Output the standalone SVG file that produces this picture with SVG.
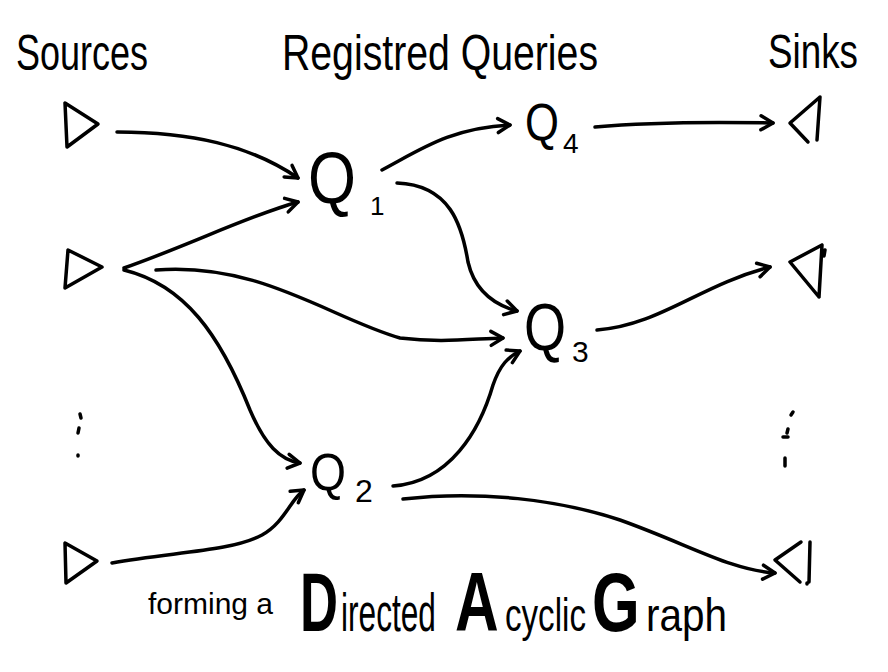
<svg xmlns="http://www.w3.org/2000/svg" width="888" height="672" viewBox="0 0 888 672">
<defs>
<style>
.ln{fill:none;stroke:#000;stroke-width:3.5;stroke-linecap:round;stroke-linejoin:round}
.t{font-family:"Liberation Sans","DejaVu Sans",sans-serif;fill:#000}
.big{font-size:84px;font-weight:bold}
</style>
<marker id="ah" markerUnits="userSpaceOnUse" viewBox="-4 -4 24 24" markerWidth="24" markerHeight="24" refX="13" refY="7" orient="auto">
<path d="M1,0 L13,7 L1,14" fill="none" stroke="#000" stroke-width="3.5" stroke-linecap="round" stroke-linejoin="round"/>
</marker>
</defs>
<rect width="888" height="672" fill="#fff"/>

<g id="titles">
<text class="t" x="16" y="70" font-size="50" textLength="132" lengthAdjust="spacingAndGlyphs">Sources</text>
<text class="t" x="282" y="70" font-size="50" textLength="316" lengthAdjust="spacingAndGlyphs">Registred Queries</text>
<text class="t" x="768" y="68" font-size="48" textLength="90" lengthAdjust="spacingAndGlyphs">Sinks</text>
</g>

<g id="source1"><path class="ln" d="M65,103 L67,147 L98,124 Z"/></g>
<g id="source2"><path class="ln" d="M68,250 L65,288 L102,267 Z"/></g>
<g id="source-dots"><path class="ln" d="M80,414 L81,418 M79,428 L78,433 M78,455 L78,456"/></g>
<g id="source3"><path class="ln" d="M65,543 L66,583 L97,561 Z"/></g>

<g id="sink1"><path class="ln" d="M820,97 L790,123 L808,142 M820,97 L817,140"/></g>
<g id="sink2"><path class="ln" d="M822,245 L790,262 L819,297 M822,245 L819,297 M825,250 L824,256"/></g>
<g id="sink-dots"><path class="ln" d="M793,412 L791,415 M788,429 L787,433 M783,437 L788,437 M785,458 L785,466"/></g>
<g id="sink3"><path class="ln" d="M801,542 L775,560 L800,582 M810,542 L809,582 M807,583 L807,584"/></g>

<g id="q1">
<text class="t" font-size="72" transform="translate(308,203) scale(0.857,1)">Q</text>
<text class="t" x="370" y="215" font-size="26">1</text>
</g>
<g id="q4">
<text class="t" font-size="52" transform="translate(525,140) scale(0.84,1)">Q</text>
<text class="t" x="563" y="153" font-size="28">4</text>
</g>
<g id="q3">
<text class="t" font-size="66" transform="translate(524,350) scale(0.82,1)">Q</text>
<text class="t" x="572" y="362" font-size="30">3</text>
</g>
<g id="q2">
<text class="t" font-size="52" transform="translate(310,490) scale(0.89,1)">Q</text>
<text class="t" x="355" y="502" font-size="32">2</text>
</g>

<g id="connectors">
<path class="ln" marker-end="url(#ah)" d="M117,132 C190,132 250,145 298,178"/>
<path class="ln" marker-end="url(#ah)" d="M124,268 C190,245 250,215 298,202"/>
<path class="ln" marker-end="url(#ah)" d="M156,270 C260,262 330,318 400,338 C440,343 470,339 503,338"/>
<path class="ln" marker-end="url(#ah)" d="M124,270 C185,285 220,335 250,410 C265,445 280,460 300,463"/>
<path class="ln" marker-end="url(#ah)" d="M112,563 C170,552 230,552 262,535 C285,522 290,500 304,490"/>
<path class="ln" marker-end="url(#ah)" d="M382,170 C420,150 450,128 510,125"/>
<path class="ln" marker-end="url(#ah)" d="M397,183 C450,185 462,225 468,262 C475,292 495,305 517,311"/>
<path class="ln" marker-end="url(#ah)" d="M393,486 C450,482 480,430 493,385 C500,365 508,357 520,351"/>
<path class="ln" marker-end="url(#ah)" d="M403,499 C480,490 560,500 620,520 C690,545 730,570 775,573"/>
<path class="ln" marker-end="url(#ah)" d="M595,127 C650,122 720,122 773,123"/>
<path class="ln" marker-end="url(#ah)" d="M597,330 C660,325 700,285 770,267"/>
</g>

<g id="caption">
<text class="t" x="148" y="614" font-size="30">forming a</text>
<text class="t big" transform="translate(300,631) scale(0.627,1)">D</text>
<text class="t" font-size="54" transform="translate(341,631) scale(0.586,1)">irected</text>
<text class="t big" transform="translate(455,631) scale(0.72,1)">A</text>
<text class="t" font-size="46" transform="translate(505,631) scale(0.72,1)">cyclic</text>
<text class="t big" transform="translate(592,631) scale(0.73,1)">G</text>
<text class="t" font-size="46" transform="translate(646,631) scale(0.88,1)">raph</text>
</g>
</svg>
